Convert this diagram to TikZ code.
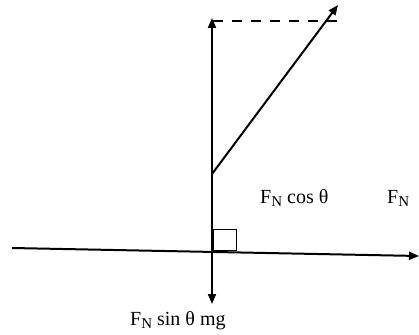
\documentclass[tikz,border=0pt]{standalone}
\usepackage{fontspec}
\setmainfont{Liberation Serif}
\usetikzlibrary{arrows.meta}

\newcommand{\fnsub}{F\raisebox{-3pt}{\fontsize{15}{15}\selectfont N}}

\begin{document}
\begin{tikzpicture}[
  x=1pt,y=-1pt,
  vec/.style={-{Triangle[length=10pt,width=8pt]},line width=2pt},
  lbl/.style={anchor=base west,inner sep=0pt,font=\fontsize{20}{24}\selectfont}
]
\useasboundingbox (0,0) rectangle (419,334);
% points of the force diagram
\coordinate (axis) at (212,250);
\coordinate (up) at (212,18);
\coordinate (down) at (212,304);
\coordinate (start) at (212,174);
\coordinate (tip) at (338,5);
\coordinate (dash0) at (213,21);
\coordinate (dash1) at (343,21);
\coordinate (left) at (12,248);
\coordinate (right) at (419,256);
% vectors
\draw[vec] (axis) -- (up);
\draw[vec] (axis) -- (down);
\draw[vec] (start) -- (tip);
\draw[vec] (left) -- (right);
\draw[line width=2.5pt,dash pattern=on 10pt off 9pt] (dash0) -- (dash1);
\draw[line width=0.9pt] (213,229) rectangle (236,250);
% labels
\node[lbl] (fncos) at (260,203) {\fnsub\ cos θ};
\node[lbl] (fn) at (387,203) {\fnsub};
\node[lbl] (fnsin) at (130,325) {\fnsub\ sin θ mg};
\end{tikzpicture}
\end{document}
